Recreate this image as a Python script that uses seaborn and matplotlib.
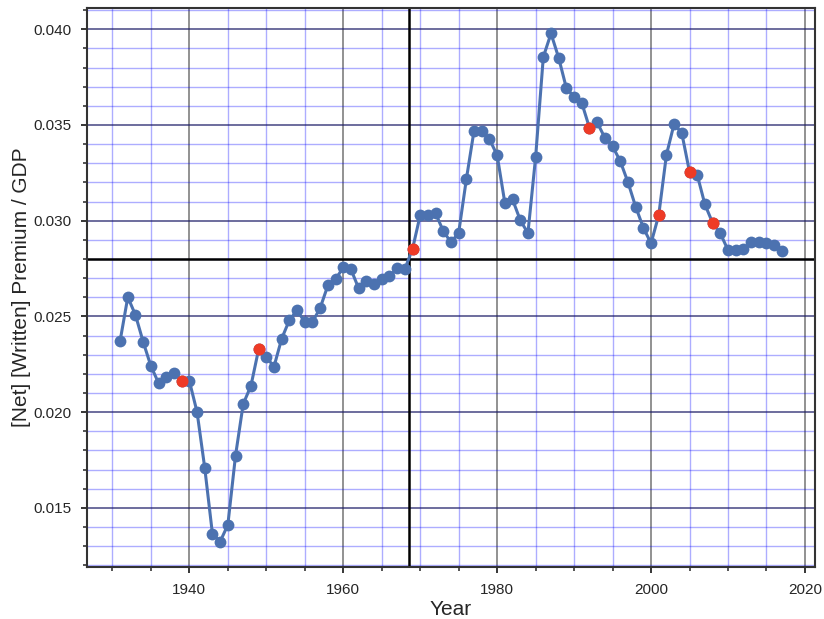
import numpy as np
import pandas as pd
import matplotlib
matplotlib.use("Agg")
import matplotlib.pyplot as plt
from matplotlib.ticker import MultipleLocator
import seaborn as sns

years = list(range(1931, 2018))
premium_gdp = [
    0.02372, 0.02601, 0.02507, 0.02367, 0.02241, 0.02152, 0.02184, 0.02205, 0.02163, 0.02163,
    0.02001, 0.01709, 0.01364, 0.01324, 0.01411, 0.01773, 0.02043, 0.02137, 0.02328, 0.02287,
    0.02238, 0.02384, 0.02481, 0.02532, 0.02471, 0.02471, 0.02544, 0.02662, 0.02694, 0.02756,
    0.02746, 0.02647, 0.02685, 0.02669, 0.02697, 0.02709, 0.02751, 0.02747, 0.02852, 0.03029,
    0.03028, 0.03038, 0.02946, 0.02887, 0.02937, 0.03217, 0.03471, 0.03468, 0.03426, 0.03342,
    0.03093, 0.03111, 0.03003, 0.02935, 0.03332, 0.03855, 0.03978, 0.03850, 0.03692, 0.03647,
    0.03615, 0.03485, 0.03513, 0.03433, 0.03389, 0.03311, 0.03201, 0.03073, 0.02963, 0.02882,
    0.03029, 0.03344, 0.03506, 0.03457, 0.03255, 0.03240, 0.03085, 0.02989, 0.02934, 0.02847,
    0.02847, 0.02852, 0.02887, 0.02890, 0.02883, 0.02873, 0.02841,
]
highlight_years = [1939, 1949, 1969, 1992, 2001, 2005, 2008]
vline_year = 1968.5
hline_value = 0.028

df = pd.DataFrame({"Year": years, "ratio": premium_gdp})
hl = df[df["Year"].isin(highlight_years)]

sns.set_style("ticks")
plt.rcParams["font.family"] = ["Liberation Sans", "DejaVu Sans"]

fig = plt.figure(figsize=(8.24, 6.19), dpi=100)
ax = fig.add_axes([0.1056, 0.084, 0.8834, 0.903])

sns.lineplot(data=df, x="Year", y="ratio", ax=ax, color="#4C72B0", lw=2.2,
             marker="o", markersize=8.5, markeredgewidth=0, zorder=3)
sns.scatterplot(data=hl, x="Year", y="ratio", ax=ax, color="#EE3B26", s=75,
                linewidth=0, zorder=4)

ax.axvline(vline_year, color="black", lw=1.8, zorder=2.5)
ax.axhline(hline_value, color="black", lw=1.8, zorder=2.5)

ax.xaxis.set_major_locator(MultipleLocator(20))
ax.xaxis.set_minor_locator(MultipleLocator(5))
ax.yaxis.set_major_locator(MultipleLocator(0.005))
ax.yaxis.set_minor_locator(MultipleLocator(0.001))
ax.yaxis.set_major_formatter(matplotlib.ticker.FormatStrFormatter("%.3f"))

ax.grid(which="minor", color="blue", alpha=0.32, lw=1.0)
ax.grid(which="major", axis="x", color="black", alpha=0.5, lw=1.2)
ax.grid(which="major", axis="y", color="#1c1c66", alpha=0.75, lw=1.2)
ax.set_axisbelow(True)

for s in ax.spines.values():
    s.set_color("#333333")
    s.set_linewidth(1.5)
ax.tick_params(which="major", length=4, width=1.3, pad=7.5, labelsize=11, colors="#262626")
ax.tick_params(which="minor", length=3, width=1.1, colors="#262626")

ax.set_xlabel("Year", fontsize=15, color="#262626", labelpad=2)
ax.set_ylabel("[Net] [Written] Premium / GDP", fontsize=15, color="#262626", labelpad=1.5)

fig.savefig("out.png", dpi=100)
